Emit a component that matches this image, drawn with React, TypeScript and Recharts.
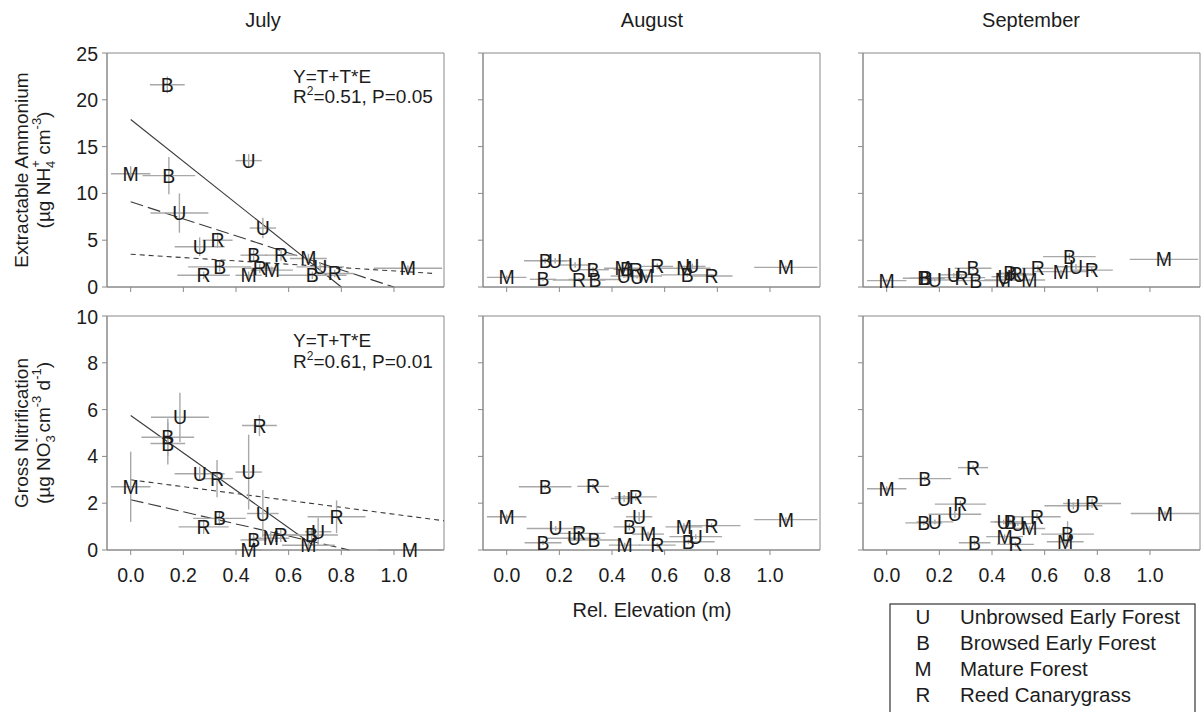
import React from "react";
import {
  ScatterChart,
  Scatter,
  XAxis,
  YAxis,
  ErrorBar,
  ReferenceLine,
  ReferenceArea,
} from "recharts";

// [group, rel. elevation (m), value, x error, y error]
type Pt = [string, number, number, number, number];

const months = ["July", "August", "September"];
const elevTicks = [0, 0.2, 0.4, 0.6, 0.8, 1.0];
const elevDomain = [-0.09, 1.19];
const ammoniumTicks = [0, 5, 10, 15, 20, 25];
const nitrifTicks = [0, 2, 4, 6, 8, 10];

const groupCodes = ["U", "B", "M", "R"];
const groupNames = [
  "Unbrowsed Early Forest",
  "Browsed Early Forest",
  "Mature Forest",
  "Reed Canarygrass",
];

const ammoniumJuly: Pt[] = [
  ["B", 0.139, 21.6, 0.066, 0.9],
  ["M", 0.0, 12.1, 0.075, 0.8],
  ["B", 0.145, 11.9, 0.1, 2.0],
  ["U", 0.448, 13.5, 0.05, 0.7],
  ["U", 0.185, 7.9, 0.11, 2.1],
  ["U", 0.502, 6.3, 0.05, 1.1],
  ["U", 0.262, 4.3, 0.095, 1.0],
  ["R", 0.33, 5.0, 0.057, 0.8],
  ["B", 0.467, 3.4, 0.05, 0.6],
  ["R", 0.571, 3.4, 0.06, 0.6],
  ["M", 0.675, 3.05, 0.07, 0.5],
  ["U", 0.72, 2.15, 0.09, 0.5],
  ["B", 0.338, 2.15, 0.12, 0.5],
  ["R", 0.277, 1.25, 0.1, 0.4],
  ["M", 0.448, 1.25, 0.05, 0.4],
  ["R", 0.49, 2.0, 0.06, 0.5],
  ["M", 0.536, 1.8, 0.08, 0.4],
  ["B", 0.69, 1.25, 0.13, 0.4],
  ["R", 0.775, 1.45, 0.07, 0.4],
  ["M", 1.053, 2.0, 0.13, 0.3],
];

const ammoniumAugust: Pt[] = [
  ["M", 0.0, 1.03, 0.075, 0.2],
  ["B", 0.138, 0.82, 0.05, 0.2],
  ["B", 0.146, 2.8, 0.08, 0.3],
  ["U", 0.184, 2.8, 0.06, 0.3],
  ["U", 0.26, 2.35, 0.06, 0.3],
  ["R", 0.275, 0.75, 0.1, 0.2],
  ["B", 0.328, 1.85, 0.06, 0.3],
  ["B", 0.335, 0.8, 0.1, 0.2],
  ["M", 0.44, 2.0, 0.07, 0.2],
  ["B", 0.455, 1.9, 0.05, 0.2],
  ["R", 0.49, 1.8, 0.07, 0.2],
  ["U", 0.445, 1.17, 0.05, 0.2],
  ["U", 0.495, 1.1, 0.05, 0.2],
  ["M", 0.53, 1.17, 0.06, 0.2],
  ["R", 0.572, 2.2, 0.06, 0.3],
  ["M", 0.675, 2.0, 0.1, 0.2],
  ["U", 0.705, 2.2, 0.05, 0.3],
  ["B", 0.686, 1.3, 0.1, 0.2],
  ["R", 0.778, 1.17, 0.08, 0.2],
  ["M", 1.06, 2.1, 0.12, 0.2],
];

const ammoniumSeptember: Pt[] = [
  ["M", 0.0, 0.68, 0.075, 0.15],
  ["B", 0.141, 0.93, 0.08, 0.15],
  ["B", 0.148, 0.93, 0.06, 0.15],
  ["U", 0.183, 0.75, 0.06, 0.15],
  ["U", 0.255, 1.3, 0.06, 0.2],
  ["R", 0.284, 1.0, 0.09, 0.2],
  ["B", 0.328, 2.0, 0.07, 0.2],
  ["B", 0.338, 0.68, 0.09, 0.15],
  ["M", 0.441, 0.75, 0.07, 0.15],
  ["U", 0.448, 1.1, 0.05, 0.2],
  ["B", 0.467, 1.46, 0.05, 0.2],
  ["R", 0.49, 1.4, 0.06, 0.2],
  ["U", 0.505, 1.3, 0.05, 0.2],
  ["M", 0.542, 0.75, 0.06, 0.15],
  ["R", 0.574, 2.0, 0.06, 0.3],
  ["M", 0.662, 1.64, 0.1, 0.2],
  ["B", 0.694, 3.24, 0.1, 0.4],
  ["U", 0.719, 2.17, 0.08, 0.3],
  ["R", 0.779, 1.8, 0.08, 0.3],
  ["M", 1.053, 2.95, 0.13, 0.2],
];

const nitrifJuly: Pt[] = [
  ["U", 0.187, 5.67, 0.11, 1.05],
  ["B", 0.141, 4.82, 0.1, 0.8],
  ["B", 0.141, 4.55, 0.066, 0.9],
  ["R", 0.489, 5.32, 0.066, 0.45],
  ["U", 0.262, 3.26, 0.095, 0.3],
  ["R", 0.328, 3.05, 0.06, 0.8],
  ["U", 0.448, 3.33, 0.05, 1.6],
  ["M", 0.0, 2.7, 0.075, 1.5],
  ["U", 0.502, 1.56, 0.06, 1.0],
  ["R", 0.782, 1.42, 0.11, 0.7],
  ["B", 0.337, 1.35, 0.1, 0.3],
  ["R", 0.277, 0.99, 0.095, 0.3],
  ["B", 0.467, 0.43, 0.05, 0.3],
  ["M", 0.532, 0.5, 0.07, 0.3],
  ["R", 0.57, 0.64, 0.07, 0.3],
  ["U", 0.712, 0.78, 0.05, 0.6],
  ["B", 0.687, 0.64, 0.1, 0.3],
  ["M", 0.675, 0.2, 0.1, 0.2],
  ["M", 0.448, 0.0, 0.05, 0],
  ["M", 1.06, 0.0, 0.12, 0],
];

const nitrifAugust: Pt[] = [
  ["B", 0.146, 2.7, 0.1, 0.1],
  ["R", 0.328, 2.72, 0.06, 0.1],
  ["U", 0.446, 2.2, 0.05, 0.15],
  ["R", 0.49, 2.27, 0.08, 0.15],
  ["M", 0.0, 1.42, 0.075, 0.1],
  ["U", 0.503, 1.42, 0.05, 0.2],
  ["U", 0.186, 0.92, 0.11, 0.1],
  ["B", 0.466, 0.99, 0.06, 0.15],
  ["M", 0.673, 0.99, 0.07, 0.15],
  ["R", 0.778, 1.04, 0.11, 0.1],
  ["R", 0.275, 0.71, 0.1, 0.1],
  ["U", 0.256, 0.5, 0.1, 0.1],
  ["B", 0.332, 0.43, 0.1, 0.1],
  ["M", 0.537, 0.68, 0.06, 0.1],
  ["U", 0.718, 0.57, 0.1, 0.1],
  ["B", 0.69, 0.35, 0.1, 0.1],
  ["B", 0.138, 0.31, 0.07, 0.1],
  ["M", 0.448, 0.21, 0.06, 0.1],
  ["R", 0.572, 0.21, 0.07, 0.1],
  ["M", 1.06, 1.3, 0.12, 0.1],
];

const nitrifSeptember: Pt[] = [
  ["R", 0.328, 3.52, 0.057, 0.1],
  ["B", 0.145, 3.05, 0.1, 0.1],
  ["M", 0.0, 2.62, 0.075, 0.1],
  ["R", 0.28, 1.96, 0.097, 0.15],
  ["U", 0.259, 1.53, 0.1, 0.15],
  ["U", 0.709, 1.89, 0.11, 0.15],
  ["R", 0.78, 1.99, 0.11, 0.2],
  ["B", 0.141, 1.16, 0.07, 0.1],
  ["U", 0.183, 1.2, 0.07, 0.1],
  ["U", 0.444, 1.2, 0.05, 0.1],
  ["B", 0.469, 1.2, 0.06, 0.1],
  ["U", 0.498, 1.13, 0.05, 0.1],
  ["M", 0.542, 0.92, 0.06, 0.1],
  ["R", 0.571, 1.42, 0.09, 0.15],
  ["M", 1.057, 1.56, 0.13, 0.1],
  ["M", 0.448, 0.57, 0.07, 0.1],
  ["R", 0.489, 0.24, 0.07, 0.1],
  ["B", 0.334, 0.31, 0.06, 0.1],
  ["B", 0.687, 0.68, 0.1, 0.55],
  ["M", 0.678, 0.35, 0.07, 0.1],
];

// regression fits (July only): [x start, y start, x end, y end]
const ammoniumJulyFits = [
  [0, 17.9, 0.8, 0],
  [0, 9.1, 1.0, 0],
  [0, 3.5, 1.15, 1.45],
];
const nitrifJulyFits = [
  [0, 5.75, 0.7, 0.15],
  [0, 3.0, 1.19, 1.25],
  [0, 2.15, 0.83, 0],
];
const ammoniumFitDash = ["", "13 5", "5 4"];
const nitrifFitDash = ["", "5 4", "13 5"];

const FONT = "'Liberation Sans', Arial, sans-serif";
const GRAY = "#8a8a8a";
const BAR = "#a8a8a8";
const INK = "#1c1c1c";

const COL_LEFT = [107, 483, 863];
const ROW_TOP = [53, 316];
const PW = 337;
const PH = 234;
const YW = 60;
const TICK_FS = 19.5;
const MARK_FS = 19.5;

type PanelProps = {
  pts: Pt[];
  row: number;
  col: number;
  fits?: number[][];
  dashes?: string[];
};

function Letter(p: any) {
  const g = p.payload ? p.payload.g : p.g;
  return (
    <text
      x={p.cx}
      y={p.cy}
      dy={MARK_FS * 0.36}
      textAnchor="middle"
      fontSize={MARK_FS}
      fontFamily={FONT}
      fill={INK}
    >
      {g}
    </text>
  );
}

function Panel({ pts, row, col, fits, dashes }: PanelProps) {
  const rows = pts.map(([g, x, y, xe, ye]) => ({ g, x, y, xe, ye }));
  const yTicks = row === 0 ? ammoniumTicks : nitrifTicks;
  const yMax = yTicks[yTicks.length - 1];
  return (
    <div
      style={{
        position: "absolute",
        left: COL_LEFT[col] - YW,
        top: ROW_TOP[row] - 10,
      }}
    >
      <ScatterChart
        width={YW + PW + 2}
        height={10 + PH + 40}
        margin={{ top: 10, right: 2, bottom: 0, left: 0 }}
      >
        <XAxis
          type="number"
          dataKey="x"
          domain={elevDomain}
          ticks={elevTicks}
          height={40}
          tickSize={5}
          tickMargin={13}
          axisLine={{ stroke: GRAY }}
          tickLine={{ stroke: GRAY }}
          tick={{ fill: INK, fontSize: TICK_FS, fontFamily: FONT }}
          tickFormatter={(v: number) => (row === 1 ? v.toFixed(1) : "")}
        />
        <YAxis
          type="number"
          dataKey="y"
          domain={[0, yMax]}
          ticks={yTicks}
          width={YW}
          tickSize={5}
          tickMargin={4}
          axisLine={{ stroke: GRAY }}
          tickLine={{ stroke: GRAY }}
          tick={{ fill: INK, fontSize: TICK_FS, fontFamily: FONT }}
          tickFormatter={(v: number) => (col === 0 ? String(v) : "")}
        />
        <ReferenceArea
          x1={elevDomain[0]}
          x2={elevDomain[1]}
          y1={0}
          y2={yMax}
          fill="none"
          stroke={GRAY}
          strokeWidth={1}
        />
        {(fits || []).map((f, i) => (
          <ReferenceLine
            key={i}
            segment={[
              { x: f[0], y: f[1] },
              { x: f[2], y: f[3] },
            ]}
            stroke="#3a3a3a"
            strokeWidth={1.1}
            strokeDasharray={dashes ? dashes[i] : ""}
          />
        ))}
        <Scatter data={rows} isAnimationActive={false} shape={Letter}>
          <ErrorBar
            dataKey="xe"
            direction="x"
            width={0}
            stroke={BAR}
            strokeWidth={1.4}
            isAnimationActive={false}
          />
          <ErrorBar
            dataKey="ye"
            direction="y"
            width={0}
            stroke={BAR}
            strokeWidth={1.4}
            isAnimationActive={false}
          />
        </Scatter>
      </ScatterChart>
    </div>
  );
}

function Overlay() {
  const t = { fontFamily: FONT, fill: INK };
  return (
    <svg
      width={1202}
      height={712}
      style={{ position: "absolute", left: 0, top: 0, pointerEvents: "none" }}
    >
      {months.map((m, i) => (
        <text
          key={m}
          x={[263, 652, 1031][i]}
          y={27}
          textAnchor="middle"
          fontSize={20}
          {...t}
        >
          {m}
        </text>
      ))}

      <g transform="translate(28,170) rotate(-90)">
        <text x={0} y={0} textAnchor="middle" fontSize={19} {...t}>
          Extractable Ammonium
        </text>
      </g>
      <g transform="translate(50,170) rotate(-90)">
        <text x={0} y={0} textAnchor="middle" fontSize={19} {...t}>
          (µg NH
          <tspan fontSize={13} dy={5}>4</tspan>
          <tspan fontSize={13} dx={-7} dy={-15}>+</tspan>
          <tspan dy={10}> cm</tspan>
          <tspan fontSize={13} dy={-9}>-3</tspan>
          <tspan dy={9}>)</tspan>
        </text>
      </g>

      <g transform="translate(28,433) rotate(-90)">
        <text x={0} y={0} textAnchor="middle" fontSize={19} {...t}>
          Gross Nitrification
        </text>
      </g>
      <g transform="translate(50,433) rotate(-90)">
        <text x={0} y={0} textAnchor="middle" fontSize={19} {...t}>
          (µg NO
          <tspan fontSize={13} dy={5}>3</tspan>
          <tspan fontSize={13} dx={-7} dy={-15}>-</tspan>
          <tspan dy={10}> cm</tspan>
          <tspan fontSize={13} dy={-9}>-3</tspan>
          <tspan dy={9}> d</tspan>
          <tspan fontSize={13} dy={-9}>-1</tspan>
          <tspan dy={9}>)</tspan>
        </text>
      </g>

      <text x={293} y={83} fontSize={19} {...t}>Y=T+T*E</text>
      <text x={293} y={103} fontSize={19} {...t}>
        R<tspan fontSize={12} dy={-8}>2</tspan>
        <tspan dy={8}>=0.51, P=0.05</tspan>
      </text>
      <text x={293} y={347} fontSize={19} {...t}>Y=T+T*E</text>
      <text x={293} y={368} fontSize={19} {...t}>
        R<tspan fontSize={12} dy={-8}>2</tspan>
        <tspan dy={8}>=0.61, P=0.01</tspan>
      </text>

      <text x={652} y={617} textAnchor="middle" fontSize={20} {...t}>
        Rel. Elevation (m)
      </text>

      <rect x={890} y={604} width={305} height={120} fill="none" stroke="#333" strokeWidth={1.2} />
      {groupCodes.map((c, i) => (
        <g key={c}>
          <text x={923} y={624 + i * 26} textAnchor="middle" fontSize={20.5} {...t}>
            {c}
          </text>
          <text x={960} y={624 + i * 26} fontSize={20.5} {...t}>
            {groupNames[i]}
          </text>
        </g>
      ))}
    </svg>
  );
}

export default function App() {
  return (
    <div
      style={{
        position: "absolute",
        left: 0,
        top: 0,
        width: 1202,
        height: 712,
        overflow: "hidden",
        background: "#fff",
      }}
    >
      <Panel pts={ammoniumJuly} row={0} col={0} fits={ammoniumJulyFits} dashes={ammoniumFitDash} />
      <Panel pts={ammoniumAugust} row={0} col={1} />
      <Panel pts={ammoniumSeptember} row={0} col={2} />
      <Panel pts={nitrifJuly} row={1} col={0} fits={nitrifJulyFits} dashes={nitrifFitDash} />
      <Panel pts={nitrifAugust} row={1} col={1} />
      <Panel pts={nitrifSeptember} row={1} col={2} />
      <Overlay />
    </div>
  );
}
